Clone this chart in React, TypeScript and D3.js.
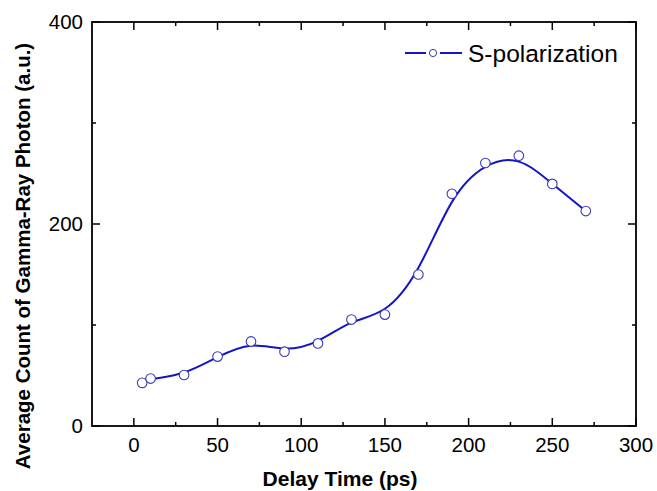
import React from "react";
import * as d3 from "d3";

const delayTimes = [5, 10, 30, 50, 70, 90, 110, 130, 150, 170, 190, 210, 230, 250, 270];
const counts = [42.7, 47, 50.5, 68.7, 83.7, 73.6, 81.8, 105.4, 110.3, 150, 229.9, 260.4, 267.6, 239.7, 212.8];
const xMajorTicks = [0, 50, 100, 150, 200, 250, 300];
const xMinorTicks = [25, 75, 125, 175, 225, 275];
const yMajorTicks = [0, 200, 400];
const yMinorTicks = [100, 300];
const seriesName = "S-polarization";

const W = 657, H = 491;
const L = 92, R = 636, T = 22, B = 426;
const font = "'Liberation Sans', Arial, sans-serif";
const lineColor = "#1414c8";
const markerColor = "#3a3ab4";

export default function App() {
  const x = d3.scaleLinear().domain([-25, 300]).range([L, R]);
  const y = d3.scaleLinear().domain([0, 400]).range([B, T]);
  const pts: [number, number][] = delayTimes.map((d, i) => [x(d), y(counts[i])]);
  const path = d3.line().curve(d3.curveBasis)(pts) || "";

  return (
    <svg width={W} height={H} style={{ position: "absolute", left: 0, top: 0, background: "#fff" }}>
      <rect x={0} y={0} width={W} height={H} fill="#fff" />
      {xMajorTicks.map((t) => (
        <g key={"xm" + t}>
          <line x1={x(t)} x2={x(t)} y1={B} y2={B - 8} stroke="#000" strokeWidth={1.5} />
          <line x1={x(t)} x2={x(t)} y1={T} y2={T + 8} stroke="#000" strokeWidth={1.5} />
          <text x={x(t)} y={452} fontSize={20.5} fontFamily={font} textAnchor="middle">{t}</text>
        </g>
      ))}
      {xMinorTicks.map((t) => (
        <g key={"xn" + t}>
          <line x1={x(t)} x2={x(t)} y1={B} y2={B - 4} stroke="#000" strokeWidth={1.5} />
          <line x1={x(t)} x2={x(t)} y1={T} y2={T + 4} stroke="#000" strokeWidth={1.5} />
        </g>
      ))}
      {yMajorTicks.map((t) => (
        <g key={"ym" + t}>
          <line x1={L} x2={L + 8} y1={y(t)} y2={y(t)} stroke="#000" strokeWidth={1.5} />
          <line x1={R} x2={R - 8} y1={y(t)} y2={y(t)} stroke="#000" strokeWidth={1.5} />
          <text x={83} y={y(t) + 7} fontSize={20.5} fontFamily={font} textAnchor="end">{t}</text>
        </g>
      ))}
      {yMinorTicks.map((t) => (
        <g key={"yn" + t}>
          <line x1={L} x2={L + 4} y1={y(t)} y2={y(t)} stroke="#000" strokeWidth={1.5} />
          <line x1={R} x2={R - 4} y1={y(t)} y2={y(t)} stroke="#000" strokeWidth={1.5} />
        </g>
      ))}
      <rect x={L} y={T} width={R - L} height={B - T} fill="none" stroke="#000" strokeWidth={1.8} />
      <path d={path} fill="none" stroke={lineColor} strokeWidth={2} />
      {pts.map((p, i) => (
        <circle key={i} cx={p[0]} cy={p[1]} r={4.8} fill="#fff" stroke={markerColor} strokeWidth={1.1} />
      ))}
      <line x1={405} x2={426} y1={53} y2={53} stroke={lineColor} strokeWidth={2} />
      <line x1={440} x2={462} y1={53} y2={53} stroke={lineColor} strokeWidth={2} />
      <circle cx={433} cy={53} r={3.6} fill="#fff" stroke={markerColor} strokeWidth={1} />
      <text x={468} y={62} fontSize={24.5} fontFamily={font}>{seriesName}</text>
      <text x={340} y={486} fontSize={21} fontWeight="bold" fontFamily={font} textAnchor="middle">Delay Time (ps)</text>
      <text transform={`translate(30,256) rotate(-90)`} fontSize={20.5} fontWeight="bold" fontFamily={font} textAnchor="middle">
        Average Count of Gamma-Ray Photon (a.u.)
      </text>
    </svg>
  );
}
